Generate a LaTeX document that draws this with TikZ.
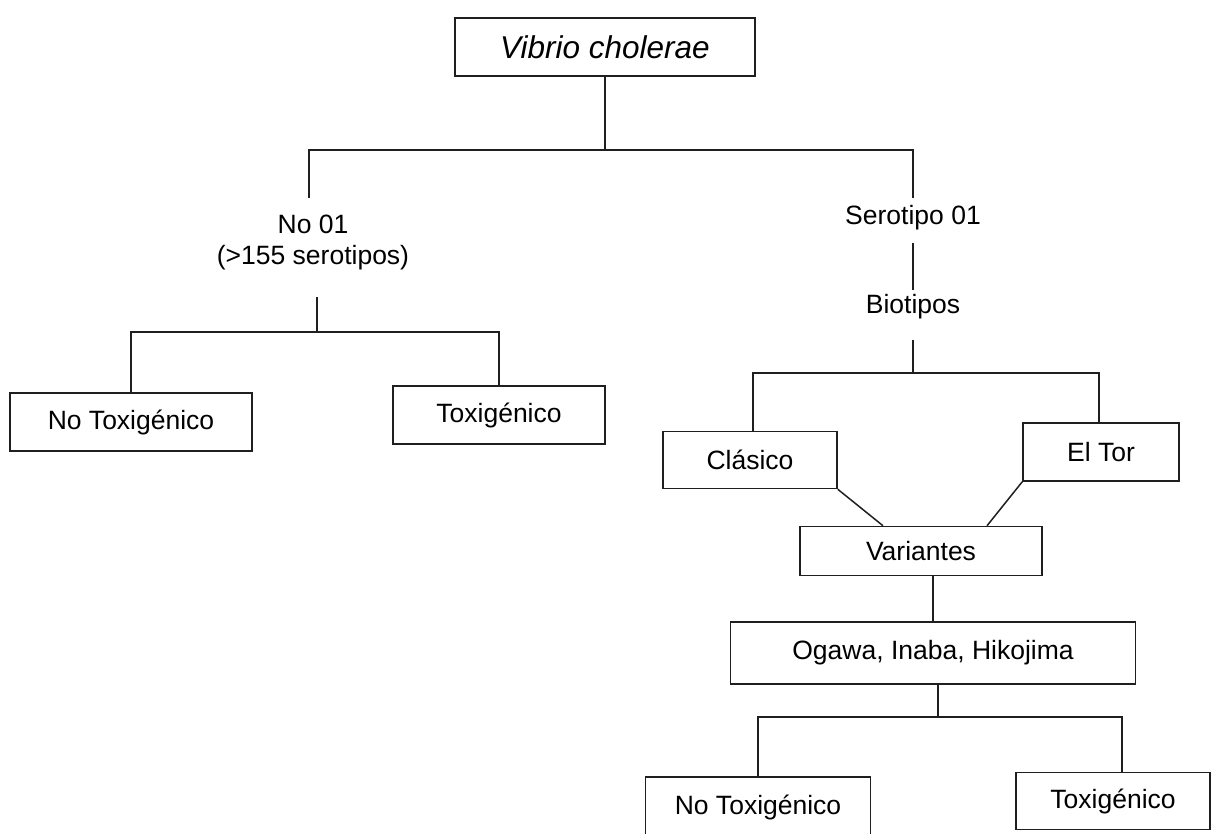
\documentclass[tikz,border=0pt]{standalone}
\usepackage{fontspec}
\setmainfont{Liberation Sans}
\begin{document}
\begin{tikzpicture}[x=1pt,y=-1pt,
  ln/.style={line width=1.5pt, draw=black!88},
  box/.style={ln, rectangle, inner sep=0pt, font=\fontsize{26.5}{31}\selectfont},
  lbl/.style={inner sep=0pt, align=center, font=\fontsize{26.5}{31}\selectfont}]
\useasboundingbox (0,0) rectangle (1220,833);
\clip (0,0) rectangle (1220,833);

% root
\node[box, minimum width=300pt, minimum height=58pt,
      font=\fontsize{31.5}{36}\selectfont\itshape] (vc) at (605,47) {Vibrio cholerae};

% non-O1 branch
\node[lbl] (no01) at (313,242) {No 01\\(>155 serotipos)};
\node[box, minimum width=242pt, minimum height=58pt] (nt1) at (131,422) {No Toxigénico};
\node[box, minimum width=212pt, minimum height=58pt] (t1) at (499,415) {Toxigénico};

% O1 branch
\node[lbl] (sero) at (913,218) {Serotipo 01};
\node[lbl] (bio) at (913,307) {Biotipos};
\node[box, minimum width=174pt, minimum height=57pt] (cla) at (750,460) {Clásico};
\node[box, minimum width=156pt, minimum height=58pt] (eltor) at (1101,452) {El Tor};
\node[box, minimum width=242pt, minimum height=49pt] (var) at (921,551) {Variantes};
\node[box, minimum width=405pt, minimum height=62pt] (oga) at (933,653) {Ogawa, Inaba, Hikojima};
\node[box, minimum width=225pt, minimum height=60pt] (nt2) at (758,807) {No Toxigénico};
\node[box, minimum width=194pt, minimum height=57pt] (t2) at (1113,801) {Toxigénico};

% junction points
\coordinate (ja) at (605,150);
\coordinate (a1) at (309,198);
\coordinate (a2) at (913,198);
\coordinate (b0) at (317,297);
\coordinate (jb) at (317,332);
\coordinate (c0) at (913,243);
\coordinate (c1) at (913,290);
\coordinate (d0) at (913,340);
\coordinate (jd) at (913,373);
\coordinate (je) at (938,717);
\coordinate (t2top) at (1122,773);

% connectors
\draw[ln] (vc.south) -- (ja);
\draw[ln] (a1) -- (a1 |- ja) -- (a2 |- ja) -- (a2);

\draw[ln] (b0) -- (jb);
\draw[ln] (nt1.north) -- (nt1.north |- jb) -- (t1.north |- jb) -- (t1.north);

\draw[ln] (c0) -- (c1);
\draw[ln] (d0) -- (jd);
\draw[ln] ([xshift=3pt]cla.north) -- ([xshift=3pt]cla.north |- jd) -- ([xshift=-2pt]eltor.north |- jd) -- ([xshift=-2pt]eltor.north);

\draw[ln] (cla.south east) -- ([xshift=-38pt]var.north);
\draw[ln] (eltor.south west) -- ([xshift=66pt]var.north);

\draw[ln] (oga.north -| je) ++(-5pt,0) -- ([xshift=12pt]var.south);
\draw[ln] (oga.south -| je) -- (je);
\draw[ln] (nt2.north) -- (nt2.north |- je) -- (t2top |- je) -- (t2top);
\end{tikzpicture}
\end{document}
